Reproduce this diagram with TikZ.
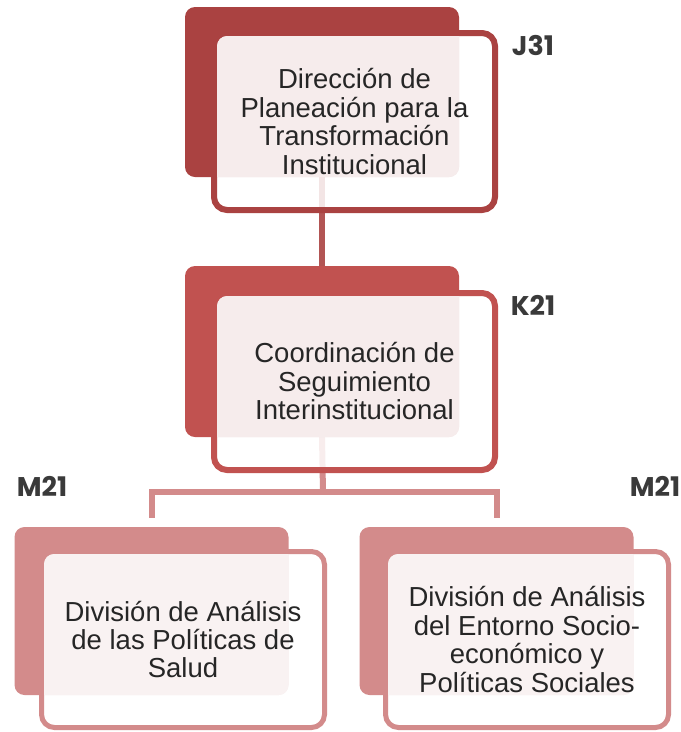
\documentclass[tikz,border=0pt]{standalone}
\usepackage{fontspec}
\setmainfont{Liberation Sans}
\newfontfamily\codefont{Poppins}
\usetikzlibrary{calc}

\definecolor{rojoA}{RGB}{170,66,65}
\definecolor{rojoB}{RGB}{193,82,80}
\definecolor{rojoC}{RGB}{211,139,139}
\definecolor{rosaA}{RGB}{246,236,236}
\definecolor{rosaC}{RGB}{249,242,242}
\definecolor{gris}{RGB}{58,58,58}

\begin{document}
\begin{tikzpicture}[
        x=1pt, y=-1pt,
        every node/.style={inner sep=0pt, outer sep=0pt},
        fondo/.style={rectangle, rounded corners=10pt, minimum width=274pt, fill=#1},
        marco/.style={rectangle, rounded corners=13pt, minimum width=281pt, minimum height=177pt,
            draw=#1, line width=6pt, fill=white, fill opacity=0.85},
        texto/.style={align=center, text=black!85, font=\fontsize{27.5}{28.5}\selectfont},
        clave/.style={text=gris, font=\codefont\bfseries\fontsize{27}{30}\selectfont},
        liga/.style={line width=6pt, draw=#1}
    ]
    \useasboundingbox (0,0) rectangle (681,732);

    % Conectores
    \coordinate (bus) at (323,492);
    \draw[liga=rojoA!90!white] (322,177) -- (322,266);
    \draw[liga=rojoC] (322,437) -- (bus);
    \draw[liga=rojoC, line cap=rect] (151.5,492) -- (496.5,492);
    \draw[liga=rojoC] (151.5,492) -- (151.5,518);
    \draw[liga=rojoC] (496.5,492) -- (496.5,518);

    % Nivel 1 - Direccion
    \node[fondo=rojoA, minimum height=170pt] (dirB) at (322,92) {};
    \node[marco=rojoA] (dirF) at (354.5,121.5) {};
    \begin{scope}
        \clip[rounded corners=10pt] (dirB.north west) rectangle (dirB.south east);
        \fill[rosaA, rounded corners=10pt] ($(dirF.north west)+(3,3)$) rectangle ($(dirF.south east)+(-3,-3)$);
    \end{scope}
    \node[texto] (dirT) at (dirF.center) {Dirección de\\Planeación para la\\Transformación\\Institucional};
    \node[clave] (dirK) at (533,46) {J31};

    % Nivel 2 - Coordinacion
    \node[fondo=rojoB, minimum height=171pt] (cooB) at (322,351.5) {};
    \node[marco=rojoB] (cooF) at (354.5,381.5) {};
    \begin{scope}
        \clip[rounded corners=10pt] (cooB.north west) rectangle (cooB.south east);
        \fill[rosaA, rounded corners=10pt] ($(cooF.north west)+(3,3)$) rectangle ($(cooF.south east)+(-3,-3)$);
    \end{scope}
    \node[texto] (cooT) at (cooF.center) {Coordinación de\\Seguimiento\\Interinstitucional};
    \node[clave] (cooK) at (533,305) {K21};

    % Nivel 3 - Divisiones
    \node[fondo=rojoC, minimum height=168pt] (salB) at (151.5,611) {};
    \node[marco=rojoC, line width=5pt, minimum width=283pt, minimum height=176pt] (salF) at (183,639.5) {};
    \node[fondo=rojoC, minimum height=168pt] (socB) at (496.5,611) {};
    \node[marco=rojoC, line width=5pt, minimum width=283pt, minimum height=176pt] (socF) at (527,639.5) {};
    \begin{scope}
        \clip[rounded corners=10pt] (salB.north west) rectangle (salB.south east);
        \fill[rosaC, rounded corners=10pt] ($(salF.north west)+(2.5,2.5)$) rectangle ($(salF.south east)+(-2.5,-2.5)$);
    \end{scope}
    \begin{scope}
        \clip[rounded corners=10pt] (socB.north west) rectangle (socB.south east);
        \fill[rosaC, rounded corners=10pt] ($(socF.north west)+(2.5,2.5)$) rectangle ($(socF.south east)+(-2.5,-2.5)$);
    \end{scope}
    \node[texto] (salT) at (salF.center) {División de Análisis\\de las Políticas de\\Salud};
    \node[texto] (socT) at (socF.center) {División de Análisis\\del Entorno Socio-\\económico y\\Políticas Sociales};
    \node[clave] (salK) at (42,486) {M21};
    \node[clave] (socK) at (655,486) {M21};

\end{tikzpicture}
\end{document}
